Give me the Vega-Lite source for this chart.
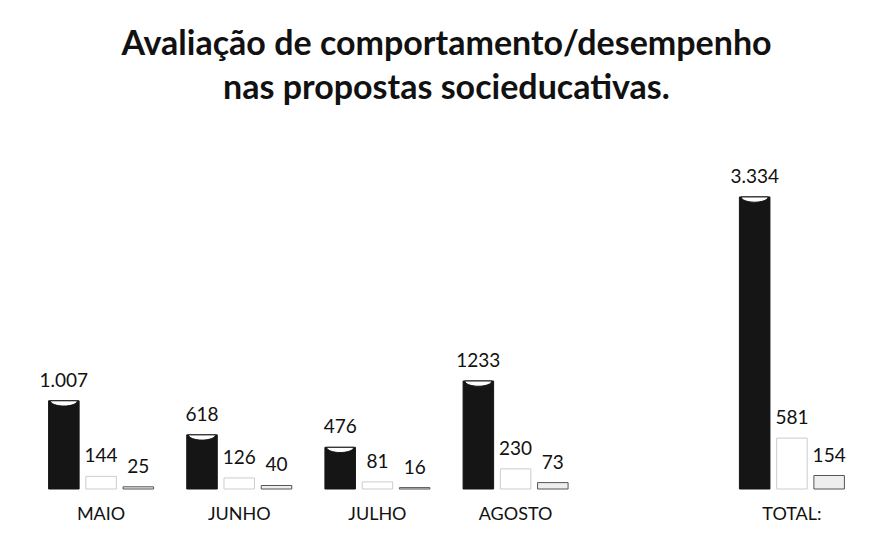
{
  "$schema": "https://vega.github.io/schema/vega-lite/v6.json",
  "width": 829,
  "height": 339,
  "autosize": {"type": "none"},
  "padding": {"left": 32, "top": 150, "right": 17, "bottom": 48},
  "background": "white",
  "title": {
    "text": ["Avaliação de comportamento/desempenho", "nas propostas socieducativas."],
    "font": "Lato",
    "fontSize": 34,
    "fontWeight": "bold",
    "color": "#111111",
    "lineHeight": 44,
    "anchor": "middle",
    "offset": 44
  },
  "data": {
    "values": [
      {"mes": "MAIO", "serie": "a", "valor": 1007, "rotulo": "1.007"},
      {"mes": "MAIO", "serie": "b", "valor": 144, "rotulo": "144"},
      {"mes": "MAIO", "serie": "c", "valor": 25, "rotulo": "25"},
      {"mes": "JUNHO", "serie": "a", "valor": 618, "rotulo": "618"},
      {"mes": "JUNHO", "serie": "b", "valor": 126, "rotulo": "126"},
      {"mes": "JUNHO", "serie": "c", "valor": 40, "rotulo": "40"},
      {"mes": "JULHO", "serie": "a", "valor": 476, "rotulo": "476"},
      {"mes": "JULHO", "serie": "b", "valor": 81, "rotulo": "81"},
      {"mes": "JULHO", "serie": "c", "valor": 16, "rotulo": "16"},
      {"mes": "AGOSTO", "serie": "a", "valor": 1233, "rotulo": "1233"},
      {"mes": "AGOSTO", "serie": "b", "valor": 230, "rotulo": "230"},
      {"mes": "AGOSTO", "serie": "c", "valor": 73, "rotulo": "73"},
      {"mes": "TOTAL:", "serie": "a", "valor": 3334, "rotulo": "3.334"},
      {"mes": "TOTAL:", "serie": "b", "valor": 581, "rotulo": "581"},
      {"mes": "TOTAL:", "serie": "c", "valor": 154, "rotulo": "154"}
    ]
  },
  "encoding": {
    "x": {
      "field": "mes",
      "type": "nominal",
      "sort": null,
      "scale": {"domain": ["MAIO", "JUNHO", "JULHO", "AGOSTO", "_", "TOTAL:"], "paddingInner": 0.24, "paddingOuter": 0.12},
      "axis": {
        "title": null,
        "labelAngle": 0,
        "domain": false,
        "ticks": false,
        "labelPadding": 16,
        "labelFont": "Lato",
        "labelFontSize": 18,
        "labelColor": "#111111",
        "labelExpr": "datum.value == '_' ? '' : datum.value"
      }
    },
    "xOffset": {"field": "serie", "type": "nominal", "scale": {"domain": ["a", "b", "c"], "paddingInner": 0.18}},
    "y": {
      "field": "valor",
      "type": "quantitative",
      "scale": {"domain": [0, 3870]},
      "axis": null
    }
  },
  "layer": [
    {
      "mark": {"type": "bar", "strokeWidth": 1},
      "encoding": {
        "fill": {"field": "serie", "type": "nominal", "scale": {"domain": ["a", "b", "c"], "range": ["#151515", "#ffffff", "#eeeeee"]}, "legend": null},
        "stroke": {"field": "serie", "type": "nominal", "scale": {"domain": ["a", "b", "c"], "range": ["#151515", "#cccccc", "#555555"]}, "legend": null}
      }
    },
    {
      "transform": [{"filter": "datum.serie == 'a'"}],
      "mark": {"type": "point", "shape": "M-0.9,0 A0.9,0.35 0 0,0 0.9,0 Z", "filled": true, "fill": "#ffffff", "stroke": "#151515", "strokeWidth": 1, "size": 900, "opacity": 1},
      "encoding": {}
    },
    {
      "mark": {"type": "text", "baseline": "alphabetic", "dy": -14, "font": "Lato", "fontSize": 19, "color": "#111111"},
      "encoding": {"text": {"field": "rotulo"}}
    }
  ],
  "config": {"view": {"stroke": null}}
}
